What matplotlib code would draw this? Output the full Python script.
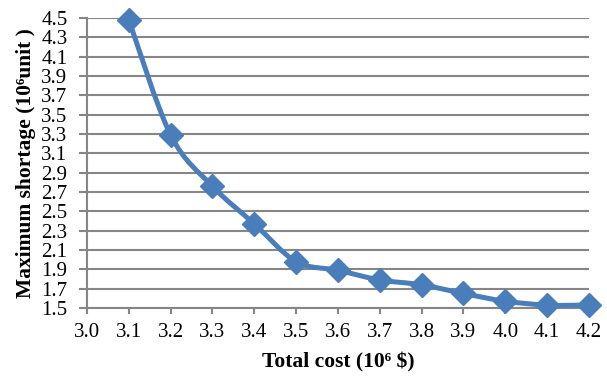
import numpy as np
import matplotlib.pyplot as plt
from matplotlib.path import Path
from matplotlib.patches import PathPatch

# Total cost (10^6 $) vs maximum shortage (10^6 unit)
cost = [3.1, 3.2, 3.3, 3.4, 3.5, 3.6, 3.7, 3.8, 3.9, 4.0, 4.1, 4.2]
shortage = [4.48, 3.29, 2.76, 2.37, 1.98, 1.89, 1.79, 1.74, 1.65, 1.57, 1.53, 1.53]

xticks = [3.0, 3.1, 3.2, 3.3, 3.4, 3.5, 3.6, 3.7, 3.8, 3.9, 4.0, 4.1, 4.2]
yticks = [1.5, 1.7, 1.9, 2.1, 2.3, 2.5, 2.7, 2.9, 3.1, 3.3, 3.5, 3.7, 3.9, 4.1, 4.3, 4.5]

blue = '#4A7EBB'
gray = '#868686'

plt.rcParams['font.family'] = ['Liberation Serif', 'DejaVu Serif']

fig = plt.figure(figsize=(6.07, 3.78), dpi=100)
ax = fig.add_axes([0.1433, 0.1852, 0.8270, 0.7672])


def smooth_path(xs, ys, t=1 / 6):
    # Catmull-Rom style bezier through the points (like Excel "smoothed line")
    xs, ys = np.asarray(xs), np.asarray(ys)
    verts = [(xs[0], ys[0])]
    codes = [Path.MOVETO]
    n = len(xs)
    for i in range(n - 1):
        p0 = i - 1 if i > 0 else i
        p3 = i + 2 if i + 2 < n else i + 1
        c1 = (xs[i] + (xs[i + 1] - xs[p0]) * t, ys[i] + (ys[i + 1] - ys[p0]) * t)
        c2 = (xs[i + 1] - (xs[p3] - xs[i]) * t, ys[i + 1] - (ys[p3] - ys[i]) * t)
        verts += [c1, c2, (xs[i + 1], ys[i + 1])]
        codes += [Path.CURVE4] * 3
    return Path(verts, codes)


ax.add_patch(PathPatch(smooth_path(cost, shortage), fill=False, edgecolor=blue,
                       lw=3.6, capstyle='round', joinstyle='round', zorder=3))
ax.plot(cost, shortage, ls='none', marker='D', ms=12, color=blue, zorder=4,
        clip_on=False)

ax.set_xlim(3.0, 4.2)
ax.set_ylim(1.5, 4.5)
ax.set_xticks(xticks)
ax.set_xticklabels([f'{v:.1f}' for v in xticks])
ax.set_yticks(yticks)
ax.set_yticklabels([f'{v:.1f}' for v in yticks])

ax.yaxis.grid(True, color=gray, lw=1.5)
ax.set_axisbelow(True)
for s in ('top', 'right'):
    ax.spines[s].set_visible(False)
for s in ('left', 'bottom'):
    ax.spines[s].set_color(gray)
    ax.spines[s].set_linewidth(1.5)
ax.tick_params(axis='both', colors=gray, width=1.5, labelcolor='black',
               labelsize=15)
ax.tick_params(axis='x', length=4, pad=7)
ax.tick_params(axis='y', length=6, pad=8)

ax.set_xlabel('Total cost (10\u2076 $)', fontsize=15.5, fontweight='bold', labelpad=7)
ax.set_ylabel('Maximum shortage (10\u2076unit )', fontsize=15.5, fontweight='bold',
              labelpad=4)

fig.savefig('out.png', dpi=100)
